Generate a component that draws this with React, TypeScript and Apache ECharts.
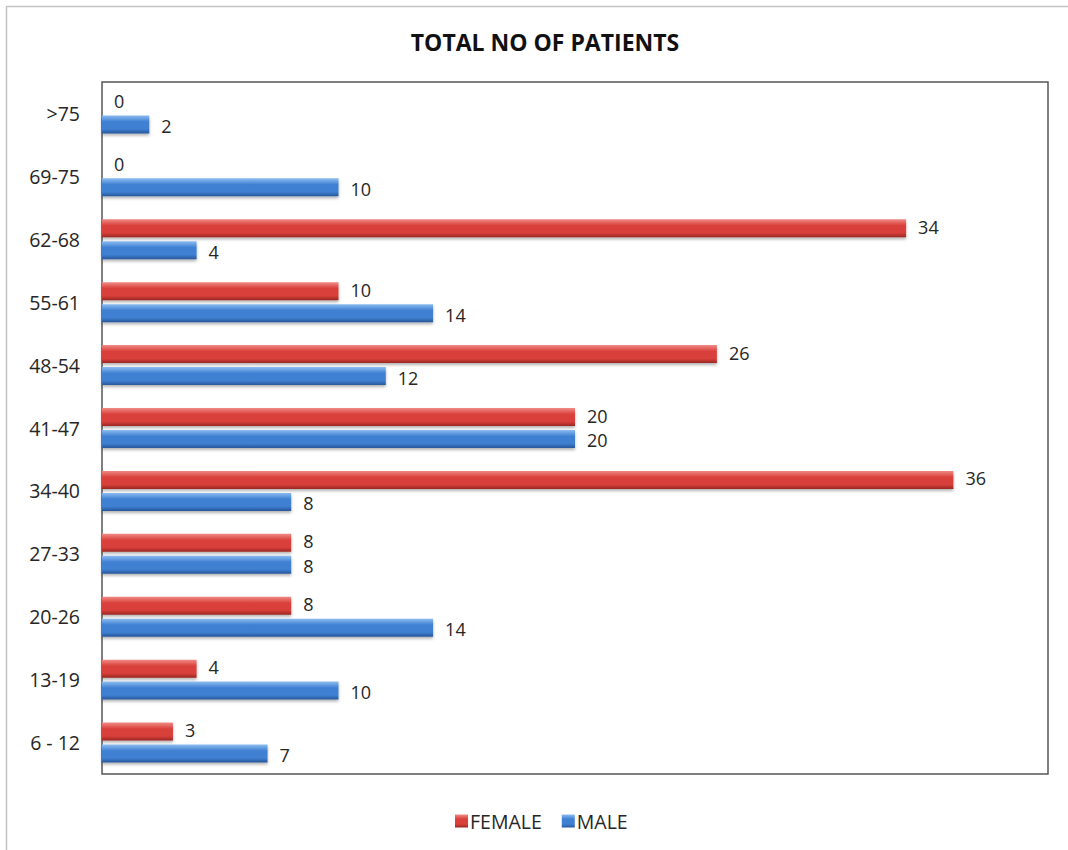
import React, { useEffect, useRef } from "react";
import * as echarts from "echarts";

// Age groups, bottom to top
const ageGroups = ["6 - 12", "13-19", "20-26", "27-33", "34-40", "41-47", "48-54", "55-61", "62-68", "69-75", ">75"];
const femaleCounts = [3, 4, 8, 8, 36, 20, 26, 10, 34, 0, 0];
const maleCounts = [7, 10, 14, 8, 8, 20, 12, 14, 4, 10, 2];
const seriesNames = ["FEMALE", "MALE"];

const FONT = "'Open Sans', 'Noto Sans', sans-serif";

const barGradient = (top: string, mid: string, bottom: string) =>
  new echarts.graphic.LinearGradient(0, 0, 0, 1, [
    { offset: 0, color: top },
    { offset: 0.35, color: mid },
    { offset: 0.75, color: mid },
    { offset: 1, color: bottom },
  ]);

// Value label beside each bar; the pair in one age group is nudged apart a little
const valueLabel = (dy: number) => ({
  show: true,
  position: "right" as const,
  distance: 12,
  offset: [0, dy],
  fontFamily: FONT,
  fontSize: 18,
  lineHeight: 18,
  color: "#262626",
});

export default function App() {
  const ref = useRef<HTMLDivElement>(null);

  useEffect(() => {
    if (!ref.current) return;
    const chart = echarts.init(ref.current, null, { renderer: "svg" });

    const red = barGradient("#f08a85", "#d9403a", "#9a2622");
    const blue = barGradient("#8cbcf0", "#3f80d2", "#27569a");

    chart.setOption({
      animation: false,
      backgroundColor: "#ffffff",
      title: {
        text: "TOTAL NO OF PATIENTS",
        left: 540,
        textAlign: "center",
        top: 25,
        textStyle: { fontFamily: FONT, fontSize: 23, fontWeight: "bold", color: "#111111" },
      },
      legend: {
        data: seriesNames,
        left: 450,
        top: 806,
        itemWidth: 13,
        itemHeight: 13,
        itemGap: 20,
        icon: "rect",
        textStyle: { fontFamily: FONT, fontSize: 19.5, color: "#262626", padding: [0, 0, 0, -3] },
      },
      grid: {
        left: 102,
        right: 20,
        top: 82,
        bottom: 76,
        show: true,
        borderColor: "#555555",
        borderWidth: 1.5,
        containLabel: false,
      },
      xAxis: {
        type: "value",
        min: 0,
        max: 40,
        axisLabel: { show: false },
        axisLine: { show: false },
        axisTick: { show: false },
        splitLine: { show: false },
      },
      yAxis: {
        type: "category",
        data: ageGroups,
        axisTick: { show: false },
        axisLine: { show: false },
        axisLabel: { fontFamily: FONT, fontSize: 19.5, color: "#262626", margin: 22 },
      },
      graphic: [
        {
          type: "rect",
          silent: true,
          z: -10,
          shape: { x: 6.5, y: 6.5, width: 1200, height: 1000 },
          style: { fill: "none", stroke: "#c4c4c4", lineWidth: 1.5 },
        },
      ],
      series: [
        {
          name: seriesNames[0],
          type: "bar",
          data: femaleCounts,
          barWidth: 18,
          barGap: "22%",
          itemStyle: {
            color: red,
            shadowColor: "rgba(0,0,0,0.3)",
            shadowBlur: 3,
            shadowOffsetY: 2,
          },
          label: valueLabel(-1.5),
        },
        {
          name: seriesNames[1],
          type: "bar",
          data: maleCounts,
          barWidth: 18,
          barGap: "22%",
          itemStyle: {
            color: blue,
            shadowColor: "rgba(0,0,0,0.3)",
            shadowBlur: 3,
            shadowOffsetY: 2,
          },
          label: valueLabel(1.5),
        },
      ],
    });

    return () => chart.dispose();
  }, []);

  return (
    <div
      ref={ref}
      style={{ position: "fixed", left: 0, top: 0, width: 1068, height: 850 }}
    />
  );
}
